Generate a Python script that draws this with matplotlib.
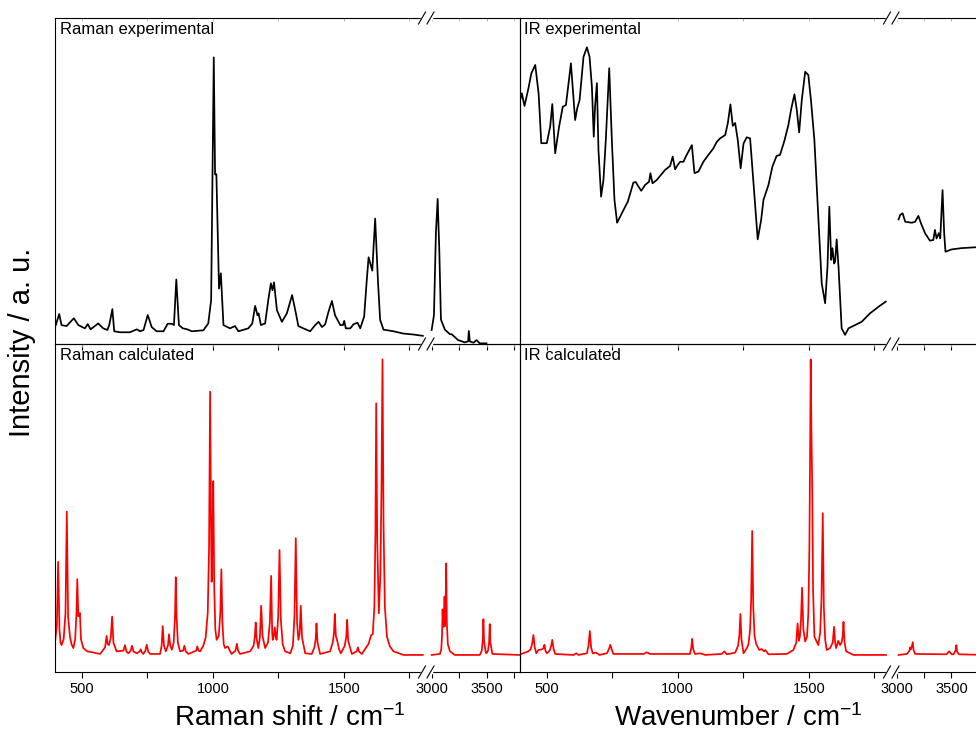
import numpy as np
import matplotlib
matplotlib.use("Agg")
import matplotlib.pyplot as plt
from matplotlib.lines import Line2D

plt.rcParams["font.family"] = ["Liberation Sans", "DejaVu Sans"]
plt.rcParams["mathtext.default"] = "regular"

# --- spectra (wavenumber / cm-1, intensity in panel %) ---
raman_exp_lo_x = [400, 413, 422, 441, 469, 486, 511, 522, 533, 562, 581, 597, 604, 616, 623, 645, 683,
                  709, 722, 735, 751, 766, 785, 811, 827, 843, 851, 860, 870, 885, 902, 919, 963, 982,
                  993, 1003, 1008, 1013, 1023, 1030, 1040, 1065, 1084, 1097, 1135, 1150, 1161, 1170,
                  1174, 1183, 1199, 1212, 1221, 1227, 1233, 1244, 1263, 1282, 1302, 1314, 1326, 1345,
                  1371, 1390, 1403, 1416, 1428, 1441, 1454, 1466, 1486, 1496, 1501, 1507, 1524, 1537,
                  1552, 1562, 1577, 1587, 1594, 1608, 1619, 1630, 1638, 1651, 1689, 1727, 1766, 1801]
raman_exp_lo_y = [5.8, 9.2, 5.8, 5.5, 7.9, 5.8, 4.8, 6.1, 4.5, 6.3, 4.8, 4.3, 5.8, 10.7, 3.9, 3.6, 3.6,
                  4.5, 3.9, 4.3, 8.9, 5.2, 3.9, 3.9, 6.2, 6.2, 5.8, 19.8, 5.8, 4.8, 4.5, 3.9, 4.2, 6.3,
                  13.5, 87.9, 52.0, 52.1, 17.0, 21.7, 5.8, 4.8, 5.5, 3.9, 4.8, 6.3, 11.7, 8.8,
                  9.4, 5.8, 6.3, 14.0, 18.6, 16.5, 18.9, 10.4, 6.8, 9.4, 15.0, 10.4, 5.5, 4.8,
                  3.9, 5.8, 6.8, 5.2, 6.0, 9.9, 13.2, 8.8, 5.8, 5.8, 7.1, 4.8, 4.8, 6.1,
                  6.5, 4.8, 8.4, 19.6, 26.6, 22.5, 38.5, 18.9, 7.4, 4.4, 3.9, 3.2, 2.9, 2.5]
raman_exp_hi_x = [2997, 3018, 3036, 3052, 3067, 3082, 3118, 3164, 3180, 3239, 3300, 3330, 3337, 3346,
                  3380, 3406, 3437, 3498]
raman_exp_hi_y = [4.3, 8.8, 34.0, 44.5, 28.8, 7.5, 4.4, 3.0, 3.0, 1.2, 0.5, 0.8, 4.0, 0.8,
                  0.4, 1.2, 0.2, 0.2]

ir_exp_lo_x = [393, 406, 416, 431, 442, 457, 470, 480, 501, 514, 522, 533, 548, 562, 574, 584, 593,
               609, 617, 626, 641, 654, 664, 673, 680, 685, 692, 698, 708, 717, 726, 739, 749, 759,
               769, 787, 810, 831, 840, 848, 861, 876, 891, 896, 904, 920, 952, 971, 981, 990,
               1000, 1009, 1022, 1031, 1054, 1064, 1079, 1098, 1117, 1136, 1149, 1162, 1181, 1191,
               1201, 1210, 1219, 1229, 1240, 1251, 1263, 1276, 1289, 1305, 1318, 1327, 1346, 1361,
               1377, 1390, 1407, 1422, 1432, 1445, 1454, 1463, 1473, 1486, 1498, 1508, 1521, 1536,
               1549, 1562, 1571, 1578, 1585, 1590, 1596, 1600, 1606, 1613, 1625, 1638, 1651, 1676,
               1701, 1733, 1765, 1793]
ir_exp_lo_y = [72.8, 76.9, 73.0, 78.4, 83.0, 85.6, 76.7, 61.6, 61.6, 66.7, 73.6, 58.5, 66.7, 72.8, 73.3,
               80.0, 86.1, 68.7, 72.3, 74.8, 88.1, 91.0, 88.1, 78.9, 63.6, 72.8, 80.0, 59.5, 45.2,
               50.3, 62.6, 84.6, 62.6, 44.2, 37.2, 40.1, 43.7, 49.5, 49.7, 48.6, 47.0, 48.8, 49.8,
               52.4, 49.3, 50.3, 53.4, 54.6, 57.5, 53.6, 54.9, 55.9, 55.9, 57.5, 61.0, 52.4, 52.9,
               55.9, 58.0, 60.0, 62.0, 63.1, 64.1, 67.7, 73.5, 66.9, 67.8, 62.6, 53.9, 61.5, 63.4,
               63.1, 49.3, 32.1, 38.0, 44.2, 48.8, 54.4, 57.7, 58.0, 62.4, 67.2, 71.8, 76.6, 71.8,
               64.9, 74.8, 83.5, 82.5, 74.8, 62.6, 39.0, 18.6, 12.5, 23.7, 42.1, 25.8, 29.4, 24.7,
               25.2, 32.1, 23.7, 4.8, 2.8, 4.8, 5.8, 6.8, 9.4, 11.4, 13.0]
ir_exp_hi_x = [3015, 3030, 3052, 3076, 3137, 3167, 3197, 3221, 3258, 3303, 3334, 3349, 3364, 3385,
               3398, 3419, 3434, 3446, 3500, 3591, 3737, 3800]
ir_exp_hi_y = [38.2, 39.6, 40.1, 37.5, 37.2, 37.5, 39.3, 37.0, 34.0, 31.7, 31.9, 35.0, 32.4, 34.0,
               32.4, 47.2, 34.0, 28.3, 29.0, 29.4, 29.7, 29.7]

raman_calc_lo_x = [397, 404, 409, 414, 418, 422, 430, 437, 442, 447, 454, 460, 467, 474, 479, 482, 486,
                   490, 492, 496, 505, 520, 540, 569, 588, 594, 598, 603, 610, 615, 620, 632, 658, 664,
                   670, 677, 686, 691, 697, 709, 719, 724, 729, 734, 742, 747, 753, 760, 798, 804, 808,
                   813, 820, 828, 832, 837, 843, 850, 855, 858, 861, 866, 874, 886, 891, 896, 906, 936,
                   940, 945, 951, 963, 972, 980, 985, 989, 993, 995, 998, 1001, 1005, 1009, 1014, 1022,
                   1028, 1032, 1036, 1041, 1046, 1056, 1071, 1086, 1091, 1096, 1103, 1142, 1155, 1160,
                   1163, 1167, 1173, 1179, 1184, 1189, 1199, 1210, 1217, 1222, 1226, 1228, 1232, 1236,
                   1240, 1243, 1249, 1254, 1259, 1266, 1275, 1295, 1305, 1311, 1316, 1321, 1326, 1331,
                   1335, 1340, 1352, 1377, 1387, 1392, 1395, 1399, 1409, 1447, 1457, 1462, 1465, 1469,
                   1475, 1481, 1488, 1503, 1509, 1512, 1516, 1530, 1549, 1553, 1558, 1568, 1594, 1603,
                   1610, 1616, 1620, 1623, 1627, 1633, 1639, 1643, 1647, 1651, 1656, 1664, 1675, 1689,
                   1727, 1801]
raman_calc_lo_y = [9.0, 14.0, 33.6, 13.0, 9.0, 8.2, 10.0, 18.0, 48.9, 17.0, 10.8, 8.5, 7.3, 10.0, 18.0,
                   28.3, 17.0, 17.5, 18.0, 10.0, 7.3, 6.3, 6.0, 5.5, 7.5, 11.0, 8.5, 8.2, 10.5, 16.9,
                   9.0, 6.3, 6.5, 8.2, 6.2, 5.7, 6.5, 8.0, 6.2, 5.7, 6.2, 6.9, 5.9, 5.5, 6.5, 8.3, 6.2,
                   5.5, 5.5, 8.0, 14.0, 8.0, 6.3, 8.0, 11.5, 8.0, 6.8, 9.0, 17.0, 28.9, 17.0, 9.0, 6.3,
                   6.5, 8.0, 6.3, 5.5, 6.5, 7.8, 6.5, 6.3, 8.0, 10.5, 18.0, 38.0, 85.5, 40.0, 27.5,
                   40.0, 58.2, 25.0, 13.0, 9.8, 11.0, 18.0, 31.3, 15.0, 8.5, 7.3, 7.8, 5.5, 6.5, 8.6,
                   6.5, 5.5, 6.3, 8.0, 11.0, 15.1, 10.0, 7.3, 10.5, 20.2, 11.0, 7.3, 9.0, 15.0, 29.3,
                   12.0, 9.8, 11.0, 13.6, 10.5, 9.8, 17.0, 37.2, 16.0, 8.5, 6.3, 5.7, 8.0, 17.0, 40.8,
                   15.0, 9.8, 12.0, 20.2, 10.5, 5.7, 5.5, 7.5, 10.0, 14.8, 9.0, 5.5, 6.3, 9.0, 12.0,
                   17.7, 11.0, 9.3, 7.0, 5.7, 8.0, 11.0, 15.9, 9.5, 5.5, 6.3, 7.5, 6.2, 5.5, 8.6, 11.1,
                   11.6, 20.0, 42.0, 81.9, 40.0, 17.9, 30.0, 55.0, 95.3, 45.0, 20.0, 10.8, 7.8, 6.3,
                   5.2, 5.2]
raman_calc_hi_x = [2997, 3073, 3085, 3092, 3097, 3103, 3109, 3115, 3119, 3124, 3130, 3136, 3145, 3164,
                   3209, 3437, 3455, 3465, 3470, 3476, 3490, 3497, 3512, 3522, 3528, 3534, 3552, 3800]
raman_calc_hi_y = [5.2, 5.5, 7.0, 11.0, 19.1, 14.0, 13.8, 23.0, 14.0, 18.0, 33.1, 15.0, 8.5, 6.3,
                   5.2, 5.2, 6.5, 10.0, 16.1, 9.5, 6.2, 5.7, 6.5, 9.0, 14.6, 9.0, 5.5, 5.2]

ir_calc_lo_x = [393, 431, 440, 446, 450, 455, 461, 469, 482, 488, 492, 496, 501, 512, 518, 522, 527, 533,
                603, 613, 622, 654, 660, 665, 670, 676, 689, 702, 730, 738, 743, 748, 755, 870, 882,
                895, 1047, 1052, 1055, 1059, 1066, 1086, 1105, 1168, 1178, 1187, 1219, 1230, 1235,
                1239, 1243, 1251, 1265, 1270, 1276, 1280, 1284, 1288, 1293, 1299, 1311, 1320, 1329,
                1334, 1346, 1416, 1441, 1452, 1457, 1462, 1466, 1470, 1474, 1479, 1486, 1493, 1498,
                1502, 1505, 1507, 1510, 1513, 1516, 1521, 1536, 1543, 1548, 1553, 1557, 1562, 1568,
                1581, 1591, 1596, 1600, 1604, 1612, 1619, 1625, 1629, 1632, 1636, 1642, 1670, 1794]
ir_calc_lo_y = [5.2, 6.3, 7.0, 9.0, 11.3, 7.5, 5.7, 6.7, 6.9, 7.2, 8.3, 6.5, 5.7, 6.5, 8.0, 9.8, 7.0, 5.5,
                5.2, 5.7, 5.2, 5.7, 8.0, 12.5, 7.5, 5.7, 5.9, 5.2, 5.7, 7.0, 8.3, 7.0, 5.5, 5.5, 6.0,
                5.5, 5.5, 7.5, 10.1, 7.0, 5.5, 5.7, 5.2, 5.5, 6.3, 5.4, 5.9, 8.0, 11.0,
                17.7, 10.0, 5.7, 7.5, 8.6, 13.0, 22.0, 43.0, 20.0, 11.0, 8.6, 6.7, 7.0, 6.3,
                6.7, 5.4, 5.5, 6.7, 9.0, 14.8, 9.5, 11.0, 16.0, 25.7, 13.0, 9.3, 10.8, 18.0,
                38.0, 70.0, 95.3, 72.0, 54.5, 25.0, 10.8, 8.2, 12.0, 22.0, 48.4, 20.0, 10.0, 6.7,
                7.3, 9.0, 13.8, 9.0, 7.3, 9.5, 8.2, 9.1, 11.0, 15.3, 9.0, 6.3, 5.2, 5.2]
ir_calc_hi_x = [3015, 3091, 3115, 3121, 3130, 3146, 3152, 3167, 3455, 3480, 3503, 3520, 3538, 3546, 3552,
                3570, 3800]
ir_calc_hi_y = [5.2, 5.5, 6.5, 7.5, 7.0, 9.1, 6.8, 5.5, 5.4, 6.3, 5.4, 5.4, 6.5, 8.2, 6.2,
                5.4, 5.2]

lo_range = (397, 1815)
hi_range = (2950, 3800)
lo_major = [500, 1000, 1500]
lo_minor = [750, 1250, 1750]
hi_major = [3000, 3500]
hi_minor = [3250, 3750]

W, H = 976, 737


def px_box(x0, y0, x1, y1):
    return [x0 / W, 1 - y1 / H, (x1 - x0) / W, (y1 - y0) / H]


fig = plt.figure(figsize=(W / 100, H / 100), dpi=100)

panels = [
    # (x_left, x_break, x_right, y_top, y_bottom, lo data, hi data, colour, label, bottom row?)
    (55, 426.5, 519.5, 18, 344, (raman_exp_lo_x, raman_exp_lo_y), (raman_exp_hi_x, raman_exp_hi_y),
     "black", "Raman experimental", False),
    (519.5, 891.5, 984, 18, 344, (ir_exp_lo_x, ir_exp_lo_y), (ir_exp_hi_x, ir_exp_hi_y),
     "black", "IR experimental", False),
    (55, 426.5, 519.5, 344, 672, (raman_calc_lo_x, raman_calc_lo_y), (raman_calc_hi_x, raman_calc_hi_y),
     "#ff0000", "Raman calculated", True),
    (519.5, 891.5, 984, 344, 672, (ir_calc_lo_x, ir_calc_lo_y), (ir_calc_hi_x, ir_calc_hi_y),
     "#ff0000", "IR calculated", True),
]

for xl, xb, xr, yt, yb, lo, hi, col, label, bottom in panels:
    ax_lo = fig.add_axes(px_box(xl, yt, xb, yb))
    ax_hi = fig.add_axes(px_box(xb, yt, xr, yb))
    ax_lo.plot(lo[0], lo[1], color=col, lw=1.25)
    ax_hi.plot(hi[0], hi[1], color=col, lw=1.25)
    ax_lo.set_xlim(*lo_range)
    ax_hi.set_xlim(*hi_range)
    for ax, major, minor in ((ax_lo, lo_major, lo_minor), (ax_hi, hi_major, hi_minor)):
        ax.set_ylim(0, 100)
        ax.set_yticks([])
        ax.set_xticks(major)
        ax.set_xticks(minor, minor=True)
        ax.tick_params(axis="x", which="both", direction="out", length=4, width=0.8,
                       labelsize=10.5, pad=3, labelbottom=bottom)
        # faint mirror ticks on the top edge
        sec = ax.secondary_xaxis("top")
        sec.set_xticks(major)
        sec.set_xticks(minor, minor=True)
        sec.tick_params(which="both", direction="in", length=2, width=0.6, color="#aaaaaa",
                        labeltop=False)
        sec.spines["top"].set_visible(False)
        for s in ax.spines.values():
            s.set_linewidth(0.8)
        ax.patch.set_alpha(0)
    ax_lo.spines["right"].set_visible(False)
    ax_hi.spines["left"].set_visible(False)
    ax_lo.text(0.013, 0.988, label, transform=ax_lo.transAxes, ha="left", va="top", fontsize=12)


def break_mark(xc, yc):
    # "//" mark on a horizontal axis line, in pixel coords of the figure
    y = 1 - yc / H
    fig.add_artist(Line2D([(xc - 4.5) / W, (xc + 4.5) / W], [y, y], color="white", lw=2.5, zorder=5))
    for dx in (-4.5, 4.0):
        fig.add_artist(Line2D([(xc + dx - 3.5) / W, (xc + dx + 3.5) / W],
                              [y - 6 / H, y + 6 / H], color="black", lw=0.8, zorder=6))


for xc in (426.5, 891.5):
    for yc in (18, 344, 672):
        break_mark(xc, yc)

fig.text(22 / W, 1 - 342 / H, "Intensity / a. u.", rotation=90, ha="center", va="center", fontsize=21)
fig.text(290 / W, 1 - 718 / H, r"Raman shift / cm$^{-1}$", ha="center", va="center", fontsize=20)
fig.text(738 / W, 1 - 718 / H, r"Wavenumber / cm$^{-1}$", ha="center", va="center", fontsize=20)

fig.savefig("out.png", dpi=100)
